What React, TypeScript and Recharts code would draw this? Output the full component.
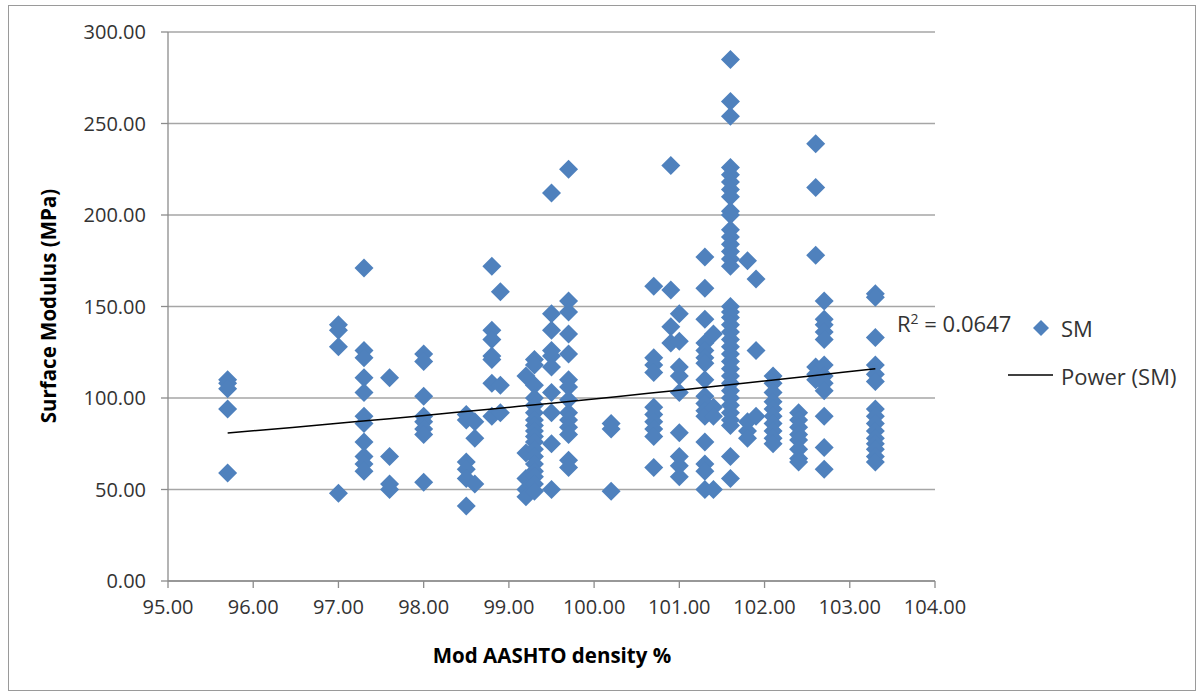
import React from 'react';
import { ScatterChart, Scatter, XAxis, YAxis, CartesianGrid } from 'recharts';

// Mod AASHTO density % (x) columns and the Surface Modulus (MPa) values measured at each
const densityColumns = [
  95.7, 97.0, 97.3, 97.6, 98.0, 98.5, 98.6, 98.8, 98.9, 99.2, 99.3, 99.5, 99.7,
  100.2, 100.7, 100.9, 101.0, 101.3, 101.4, 101.6, 101.8, 101.9, 102.1, 102.4,
  102.6, 102.7, 103.3,
];

const modulusColumns: number[][] = [
  [110, 108, 105, 94, 59],
  [140, 137, 128, 48],
  [171, 126, 122, 111, 103, 90, 86, 76, 68, 64, 60],
  [111, 68, 53, 50],
  [124, 120, 101, 90, 87, 83, 80, 54],
  [91, 88, 65, 61, 56, 41],
  [87, 78, 53],
  [172, 137, 132, 123, 121, 108, 90],
  [158, 107, 92],
  [112, 70, 56, 50, 46],
  [121, 118, 107, 100, 96, 92, 88, 85, 82, 79, 76, 72, 68, 64, 60, 57, 53, 49],
  [212, 146, 137, 126, 123, 117, 103, 92, 75, 50],
  [225, 153, 147, 135, 124, 110, 106, 99, 92, 88, 84, 80, 66, 62],
  [86, 83, 49],
  [161, 122, 118, 114, 95, 91, 87, 83, 79, 62],
  [227, 159, 139, 130],
  [146, 131, 117, 112, 103, 81, 68, 63, 57],
  [177, 160, 143, 130, 126, 122, 119, 110, 101, 97, 93, 90, 76, 64, 60, 50],
  [135, 95, 90, 50],
  [285, 262, 254, 226, 222, 218, 214, 210, 202, 200, 192, 188, 184, 180, 176, 172,
    150, 147, 144, 140, 136, 132, 128, 124, 120, 116, 112, 108, 104, 100, 96, 92, 88, 85, 68, 56],
  [175, 87, 82, 78],
  [165, 126, 90],
  [112, 108, 103, 98, 94, 90, 86, 82, 78, 75],
  [92, 88, 84, 80, 77, 72, 67, 65],
  [239, 215, 178, 117, 113, 110],
  [153, 143, 140, 136, 132, 118, 112, 108, 104, 90, 73, 61],
  [157, 155, 133, 118, 113, 109, 94, 90, 86, 82, 78, 75, 72, 68, 65],
];

const xTicks = [95, 96, 97, 98, 99, 100, 101, 102, 103, 104];
const yTicks = [0, 50, 100, 150, 200, 250, 300];

const seriesName = 'SM';
const trendName = 'Power (SM)';
const rSquaredText = '0.0647';
const xTitle = 'Mod AASHTO density %';
const yTitle = 'Surface Modulus (MPa)';

const points = densityColumns.flatMap((x, i) => modulusColumns[i].map((y) => ({ x, y })));

// Power trendline y = a * x^b, least squares fit in log-log space
function powerFit(pts: { x: number; y: number }[]) {
  const n = pts.length;
  let sx = 0, sy = 0, sxx = 0, sxy = 0;
  for (const p of pts) {
    const lx = Math.log(p.x);
    const ly = Math.log(p.y);
    sx += lx; sy += ly; sxx += lx * lx; sxy += lx * ly;
  }
  const b = (n * sxy - sx * sy) / (n * sxx - sx * sx);
  const a = Math.exp((sy - b * sx) / n);
  return { a, b };
}
const fit = powerFit(points);
const xMin = Math.min(...densityColumns);
const xMax = Math.max(...densityColumns);
const trendPoints = Array.from({ length: 21 }, (_, k) => {
  const x = xMin + ((xMax - xMin) * k) / 20;
  return { x, y: fit.a * Math.pow(x, fit.b) };
});

const BLUE = '#4f81bd';
const FONT = '"Open Sans", "Liberation Sans", sans-serif';
const TEXT = '#333333';

const Diamond = (props: any) => {
  const { cx, cy } = props;
  const r = 9.5;
  if (cx == null || cy == null) return <g />;
  return (
    <polygon
      points={`${cx},${cy - r} ${cx + r},${cy} ${cx},${cy + r} ${cx - r},${cy}`}
      fill={BLUE}
    />
  );
};

const W = 1186;
const H = 684;

export default function App() {
  return (
    <div
      style={{
        position: 'absolute',
        left: 8,
        top: 5,
        width: W,
        height: H,
        border: '1px solid #9a9a9a',
        background: '#fff',
        fontFamily: FONT,
      }}
    >
      <ScatterChart
        width={W}
        height={H}
        margin={{ top: 26, right: 260, bottom: 69, left: 99 }}
      >
        <CartesianGrid vertical={false} stroke="#a6a6a6" strokeWidth={1.3} />
        <XAxis
          type="number"
          dataKey="x"
          domain={[95, 104]}
          ticks={xTicks}
          interval={0}
          height={40}
          tickFormatter={(v: number) => v.toFixed(2)}
          tick={{ fontSize: 20, fill: TEXT, fontFamily: FONT }}
          tickSize={7}
          tickMargin={12}
          axisLine={{ stroke: '#8c8c8c', strokeWidth: 1.3 }}
          tickLine={{ stroke: '#8c8c8c', strokeWidth: 1.3 }}
          allowDataOverflow
        />
        <YAxis
          type="number"
          dataKey="y"
          domain={[0, 300]}
          ticks={yTicks}
          interval={0}
          width={60}
          tickFormatter={(v: number) => v.toFixed(2)}
          tick={{ fontSize: 20, fill: TEXT, fontFamily: FONT }}
          tickSize={7}
          tickMargin={15}
          axisLine={{ stroke: '#8c8c8c', strokeWidth: 1.3 }}
          tickLine={{ stroke: '#8c8c8c', strokeWidth: 1.3 }}
          allowDataOverflow
        />
        <Scatter
          name={seriesName}
          data={points}
          shape={Diamond}
          isAnimationActive={false}
        />
        <Scatter
          name={trendName}
          data={trendPoints}
          line={{ stroke: '#000', strokeWidth: 1.5 }}
          shape={() => <g />}
          isAnimationActive={false}
        />
      </ScatterChart>

      {/* Axis titles */}
      <div
        style={{
          position: 'absolute',
          left: 39,
          top: 300,
          transform: 'translate(-50%, -50%) rotate(-90deg)',
          fontWeight: 700,
          fontSize: 20.5,
          whiteSpace: 'nowrap',
          color: '#000',
          lineHeight: 1,
        }}
      >
        {yTitle}
      </div>
      <div
        style={{
          position: 'absolute',
          left: 543,
          top: 649,
          transform: 'translate(-50%, -50%)',
          fontWeight: 700,
          fontSize: 20.5,
          whiteSpace: 'nowrap',
          color: '#000',
          lineHeight: 1,
        }}
      >
        {xTitle}
      </div>

      {/* R squared label */}
      <div
        style={{
          position: 'absolute',
          left: 888,
          top: 317,
          transform: 'translateY(-50%)',
          fontSize: 22,
          whiteSpace: 'nowrap',
          color: TEXT,
          lineHeight: 1,
        }}
      >
        R<sup style={{ fontSize: 14, verticalAlign: 'top', lineHeight: 1 }}>2</sup> = {rSquaredText}
      </div>

      {/* Legend */}
      <svg
        style={{ position: 'absolute', left: 990, top: 310 }}
        width={60}
        height={80}
      >
        <polygon points="42,4 50,12 42,20 34,12" fill={BLUE} />
        <line x1={9} y1={59} x2={54} y2={59} stroke="#000" strokeWidth={1.5} />
      </svg>
      <div
        style={{
          position: 'absolute',
          left: 1052,
          top: 322,
          transform: 'translateY(-50%)',
          fontSize: 22,
          whiteSpace: 'nowrap',
          color: TEXT,
          lineHeight: 1,
        }}
      >
        {seriesName}
      </div>
      <div
        style={{
          position: 'absolute',
          left: 1052,
          top: 370,
          transform: 'translateY(-50%)',
          fontSize: 22,
          whiteSpace: 'nowrap',
          color: TEXT,
          lineHeight: 1,
        }}
      >
        {trendName}
      </div>
    </div>
  );
}
